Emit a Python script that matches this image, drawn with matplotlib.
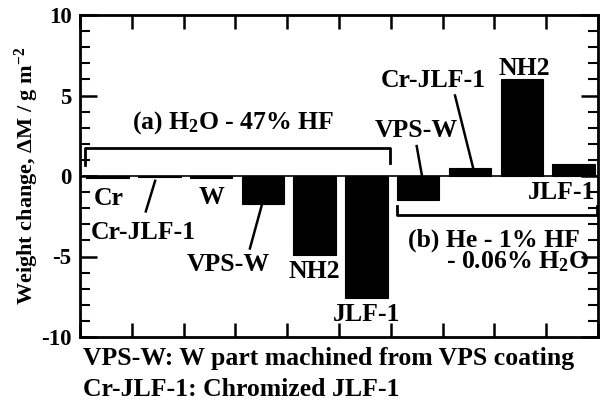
import numpy as np
import matplotlib
matplotlib.use("Agg")
import matplotlib.pyplot as plt
from matplotlib.ticker import MultipleLocator

# ---- data ----
materials = ["Cr", "Cr-JLF-1", "W", "VPS-W", "NH2", "JLF-1",
             "VPS-W", "Cr-JLF-1", "NH2", "JLF-1"]
weight_change = [-0.15, -0.08, -0.12, -1.75, -4.9, -7.6,
                 -1.5, 0.5, 6.0, 0.72]
y_ticks = [-10, -5, 0, 5, 10]

plt.rcParams["font.family"] = ["Liberation Serif", "DejaVu Serif"]
plt.rcParams["font.weight"] = "bold"
plt.rcParams["axes.unicode_minus"] = False
plt.rcParams["mathtext.fontset"] = "custom"
plt.rcParams["mathtext.rm"] = "Liberation Serif:bold"
plt.rcParams["mathtext.it"] = "Liberation Serif:bold"
plt.rcParams["mathtext.bf"] = "Liberation Serif:bold"

fig = plt.figure(figsize=(6.04, 4.0), dpi=100)
ax = fig.add_axes([0.1325, 0.1575, 0.8575, 0.805])

x = np.arange(len(materials)) + 0.53
ax.bar(x, weight_change, width=0.82, color="black", edgecolor="black", lw=0.8)
ax.axhline(0, color="black", lw=1.2)

ax.set_xlim(0, 10)
ax.set_ylim(-10, 10)
ax.xaxis.set_major_locator(MultipleLocator(1))
ax.set_xticklabels([])
ax.set_yticks(y_ticks)
ax.yaxis.set_minor_locator(MultipleLocator(1))
ax.tick_params(axis="x", which="major", direction="in", length=10, width=1.8,
               top=True, bottom=True, labelbottom=False)
ax.tick_params(axis="y", which="major", direction="in", length=12, width=1.8,
               left=True, right=True, labelsize=16.5, pad=6)
ax.tick_params(axis="y", which="minor", direction="in", length=7, width=1.5,
               left=True, right=True)
for s in ax.spines.values():
    s.set_linewidth(2)

ax.set_ylabel("Weight change, ΔM / g m$^{-2}$", fontsize=16, fontweight="bold",
              labelpad=0)

fs = 18.5
# group (a)
ax.plot([0.1, 0.1, 5.98, 5.98], [0.7, 1.75, 1.75, 0.8], color="black", lw=2)
ax.text(2.95, 3.3, "(a) H$_{\\mathrm{2}}$O - 47% HF", fontsize=fs, ha="center", va="center")
ax.text(0.56, -1.4, "Cr", fontsize=fs, ha="center", va="center")
ax.text(1.22, -3.5, "Cr-JLF-1", fontsize=fs, ha="center", va="center")
ax.plot([1.27, 1.45], [-2.2, -0.3], color="black", lw=1.8)
ax.text(2.54, -1.35, "W", fontsize=fs, ha="center", va="center")
ax.text(2.86, -5.5, "VPS-W", fontsize=fs, ha="center", va="center")
ax.plot([3.28, 3.51], [-4.5, -1.8], color="black", lw=1.8)
ax.text(4.52, -5.95, "NH2", fontsize=fs, ha="center", va="center")
ax.text(5.54, -8.6, "JLF-1", fontsize=fs, ha="center", va="center")

# group (b)
ax.plot([6.12, 6.12, 9.98, 9.98], [-1.85, -2.4, -2.4, -1.85], color="black", lw=2)
ax.text(9.65, -4.0, "(b) He - 1% HF", fontsize=fs, ha="right", va="center")
ax.text(9.82, -5.35, "- 0.06% H$_{\\mathrm{2}}$O", fontsize=fs, ha="right", va="center")
ax.text(6.5, 2.85, "VPS-W", fontsize=fs, ha="center", va="center")
ax.plot([6.5, 6.6], [1.86, 0.05], color="black", lw=1.8)
ax.text(6.82, 5.96, "Cr-JLF-1", fontsize=fs, ha="center", va="center")
ax.plot([7.24, 7.59], [5.0, 0.5], color="black", lw=1.8)
ax.text(8.57, 6.65, "NH2", fontsize=fs, ha="center", va="center")
ax.text(9.29, -1.0, "JLF-1", fontsize=fs, ha="center", va="center")

fig.text(83 / 604, 1 - 359 / 400, "VPS-W: W part machined from VPS coating",
         fontsize=fs, ha="left", va="center")
fig.text(83 / 604, 1 - 389 / 400, "Cr-JLF-1: Chromized JLF-1",
         fontsize=fs, ha="left", va="center")

fig.savefig("out.png", dpi=100)
